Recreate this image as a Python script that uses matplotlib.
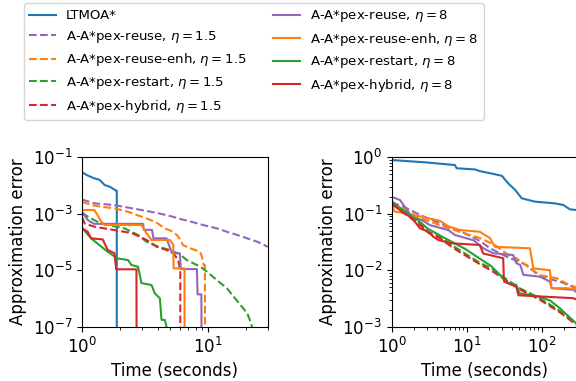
import numpy as np
import matplotlib
matplotlib.use('Agg')
import matplotlib.pyplot as plt

# left panel (small instance), times in seconds, approximation errors
lt_t_l = [1.0, 1.08, 1.25, 1.38, 1.51, 1.66, 1.87, 1.89, 1.89]
lt_e_l = [0.03, 0.024, 0.018, 0.016, 0.0105, 0.0091, 0.0066, 0.0066, 1e-9]

reuse15_t_l = [1.0, 1.25, 1.8, 2.97, 4.04, 5.2, 6.0, 7.2, 9.2, 11.8, 14.2, 17.2, 20.6, 24.8, 30]
reuse15_e_l = [3.2e-3, 2.35e-3, 2.04e-3, 1.36e-3, 1.05e-3, 8.0e-4, 6.6e-4, 5.4e-4, 4.0e-4, 3.05e-4,
               2.3e-4, 1.77e-4, 1.35e-4, 1.02e-4, 6.8e-5]

enh15_t_l = [1.0, 1.18, 1.42, 1.81, 2.32, 2.97, 3.8, 4.56, 5.32, 5.8, 6.35, 7.24, 8.7, 9.0, 9.3, 9.5, 9.5]
enh15_e_l = [2.67e-3, 2.04e-3, 1.78e-3, 1.56e-3, 1.18e-3, 7.9e-4, 5.25e-4, 3.05e-4, 2.3e-4, 1.6e-4,
             7.8e-5, 6.0e-5, 4.5e-5, 3.0e-5, 1.5e-5, 1.5e-5, 1e-9]

restart15_t_l = [1.0, 1.11, 1.33, 1.6, 2.18, 2.79, 3.26, 4.04, 5.0, 6.0, 6.8, 8.7, 9.85, 11.8, 14.2,
                 16.1, 18.2, 20.6, 21.9, 22.5, 23]
restart15_e_l = [1.1e-3, 7.9e-4, 5.2e-4, 4.0e-4, 3.05e-4, 1.77e-4, 1.02e-4, 6.8e-5, 5.2e-5, 3.7e-5,
                 2.3e-5, 1.35e-5, 8.9e-6, 4.5e-6, 2.3e-6, 1.15e-6, 5.9e-7, 3.0e-7, 1.5e-7, 1e-7, 5e-8]

hybrid15_t_l = [1.0, 1.05, 1.25, 1.6, 2.18, 2.54, 3.26, 3.92, 4.71, 5.32, 5.84, 6.02, 6.05, 6.05]
hybrid15_e_l = [7.5e-4, 4.5e-4, 3.5e-4, 2.9e-4, 2.3e-4, 2.0e-4, 1.18e-4, 6.8e-5, 5.2e-5, 4.0e-5,
                2.3e-5, 1.0e-5, 1.0e-5, 1e-9]

reuse8_t_l = [1.0, 1.11, 1.25, 3.06, 3.1, 3.6, 3.7, 4.7, 5.2, 6.0, 6.1, 8.2, 8.3, 8.9, 8.95]
reuse8_e_l = [1.15e-3, 6.0e-4, 4.4e-4, 4.4e-4, 2.7e-4, 2.7e-4, 1.35e-4, 1.35e-4, 4.0e-5, 4.0e-5,
              1.1e-5, 1.1e-5, 1.4e-6, 1.4e-6, 1e-9]

enh8_t_l = [1.0, 1.25, 1.33, 1.42, 1.51, 2.97, 3.26, 3.57, 5.0, 5.32, 5.35, 6.53, 6.55]
enh8_e_l = [1.36e-3, 1.36e-3, 9.0e-4, 5.25e-4, 4.0e-4, 4.0e-4, 2.04e-4, 1.18e-4, 1.18e-4, 7.9e-5,
            1.17e-5, 1.17e-5, 1e-9]

restart8_t_l = [1.0, 1.18, 1.6, 1.93, 2.32, 2.47, 2.79, 2.97, 3.57, 3.8, 4.16, 4.29, 4.56, 4.7, 4.7]
restart8_e_l = [3.2e-4, 1.35e-4, 4.5e-5, 2.6e-5, 2.3e-5, 1.53e-5, 1.33e-5, 3.5e-6, 3.0e-6, 1.5e-6,
                1.02e-6, 1.74e-7, 1.74e-7, 1.0e-7, 1e-9]

hybrid8_t_l = [1.0, 1.11, 1.18, 1.46, 1.6, 1.81, 1.87, 2.71, 2.72]
hybrid8_e_l = [3.05e-4, 2.3e-4, 1.35e-4, 1.24e-4, 5.2e-5, 4.0e-5, 1.08e-5, 1.08e-5, 1e-9]

# right panel (large instance)
lt_t_r = [1.0, 2.78, 6.97, 7.36, 12.9, 15.0, 24, 29.5, 35.9, 44.3, 54.3, 81.5, 150, 195, 238, 300]
lt_e_r = [0.895, 0.815, 0.73, 0.64, 0.61, 0.57, 0.5, 0.47, 0.345, 0.265, 0.188, 0.164, 0.153,
          0.143, 0.12, 0.116]

reuse15_t_r = [1.0, 1.5, 2.4, 4.4, 8.1, 15, 20.5, 34, 63, 95, 175, 300]
reuse15_e_r = [0.16, 0.13, 0.095, 0.068, 0.05, 0.033, 0.0245, 0.0174, 0.0124, 0.0077, 0.0063, 0.0047]

enh15_t_r = [1.0, 1.29, 2.38, 4.4, 8.14, 15, 23.8, 35.9, 46, 95, 160, 215, 300]
enh15_e_r = [0.137, 0.132, 0.084, 0.063, 0.0478, 0.0372, 0.028, 0.0186, 0.0163, 0.0082, 0.0072,
             0.0058, 0.0049]

restart15_t_r = [1.0, 1.5, 2.26, 3.08, 4.4, 6.3, 8.1, 15, 21.5, 27.8, 51, 95, 175, 278, 300]
restart15_e_r = [0.164, 0.109, 0.0724, 0.048, 0.04, 0.028, 0.0227, 0.0135, 0.0108, 0.0083, 0.0048,
                 0.0032, 0.0019, 0.0012, 0.0011]

hybrid15_t_r = [1.0, 1.5, 2.26, 3.08, 4.4, 6.3, 8.1, 15, 21.5, 27.8, 51, 95, 175, 300]
hybrid15_e_r = [0.15, 0.1, 0.068, 0.046, 0.037, 0.026, 0.021, 0.0128, 0.0098, 0.0078, 0.0046, 0.003,
                0.0018, 0.00105]

reuse8_t_r = [1.0, 1.29, 1.5, 1.85, 2.51, 3.24, 4.18, 5.68, 7.0, 12.3, 16.7, 22.6, 41.8, 46, 52, 57,
              95, 129, 136, 264, 300]
reuse8_e_r = [0.2, 0.175, 0.133, 0.089, 0.0776, 0.063, 0.0575, 0.0516, 0.042, 0.034, 0.0245, 0.02,
              0.0186, 0.0133, 0.0124, 0.0083, 0.0077, 0.0063, 0.0048, 0.0045, 0.0040]

enh8_t_r = [1.0, 1.1, 1.5, 2.51, 4.4, 5.7, 8.1, 15.0, 20.5, 23.8, 69.8, 77.5, 129, 136, 226, 300]
enh8_e_r = [0.143, 0.109, 0.102, 0.0887, 0.075, 0.06, 0.0516, 0.048, 0.037, 0.026, 0.0245, 0.0108,
            0.01, 0.0048, 0.0048, 0.0045]

restart8_t_r = [1.0, 1.5, 2.3, 3.0, 4.6, 6.3, 9.5, 15, 21, 30, 34, 46, 51, 95, 130, 170, 300]
restart8_e_r = [0.165, 0.11, 0.075, 0.055, 0.04, 0.032, 0.024, 0.016, 0.012, 0.0075, 0.0061, 0.0055,
                0.0039, 0.0034, 0.0029, 0.0022, 0.0011]

hybrid8_t_r = [1.0, 1.36, 1.75, 2.04, 2.38, 3.08, 3.59, 4.18, 6.31, 15, 16.6, 30.7, 31.5, 46, 49, 264, 300]
hybrid8_e_r = [0.153, 0.109, 0.0887, 0.0724, 0.0553, 0.048, 0.0393, 0.0343, 0.03, 0.028, 0.0198,
               0.0163, 0.0063, 0.0051, 0.0036, 0.0032, 0.003]

labels = ['LTMOA*',
          r'A-A*pex-reuse, $\eta = 1.5$', r'A-A*pex-reuse-enh, $\eta = 1.5$',
          r'A-A*pex-restart, $\eta = 1.5$', r'A-A*pex-hybrid, $\eta = 1.5$',
          r'A-A*pex-reuse, $\eta = 8$', r'A-A*pex-reuse-enh, $\eta = 8$',
          r'A-A*pex-restart, $\eta = 8$', r'A-A*pex-hybrid, $\eta = 8$']
colors = ['C0', 'C4', 'C1', 'C2', 'C3', 'C4', 'C1', 'C2', 'C3']
styles = ['-', '--', '--', '--', '--', '-', '-', '-', '-']

series_l = [(lt_t_l, lt_e_l), (reuse15_t_l, reuse15_e_l), (enh15_t_l, enh15_e_l),
            (restart15_t_l, restart15_e_l), (hybrid15_t_l, hybrid15_e_l),
            (reuse8_t_l, reuse8_e_l), (enh8_t_l, enh8_e_l),
            (restart8_t_l, restart8_e_l), (hybrid8_t_l, hybrid8_e_l)]
series_r = [(lt_t_r, lt_e_r), (reuse15_t_r, reuse15_e_r), (enh15_t_r, enh15_e_r),
            (restart15_t_r, restart15_e_r), (hybrid15_t_r, hybrid15_e_r),
            (reuse8_t_r, reuse8_e_r), (enh8_t_r, enh8_e_r),
            (restart8_t_r, restart8_e_r), (hybrid8_t_r, hybrid8_e_r)]

fig = plt.figure(figsize=(5.76, 3.81), dpi=100)
ax1 = fig.add_axes([0.1424, 0.1425, 0.3224, 0.4446])
ax2 = fig.add_axes([0.680, 0.1425, 0.3224, 0.4446])

handles = []
for (t, e), c, ls, lab in zip(series_l, colors, styles, labels):
    h, = ax1.plot(t, e, color=c, linestyle=ls, label=lab)
    handles.append(h)
for (t, e), c, ls in zip(series_r, colors, styles):
    ax2.plot(t, e, color=c, linestyle=ls)

ax1.set_xscale('log')
ax1.set_yscale('log')
ax1.set_xlim(1, 30)
ax1.set_ylim(1e-7, 1e-1)
ax1.set_yticks([1e-7, 1e-5, 1e-3, 1e-1])
ax1.yaxis.set_minor_locator(matplotlib.ticker.NullLocator())

ax2.set_xscale('log')
ax2.set_yscale('log')
ax2.set_xlim(1, 300)
ax2.set_ylim(1e-3, 1)

for ax in (ax1, ax2):
    ax.set_xlabel('Time (seconds)', fontsize=12)
    ax.set_ylabel('Approximation error', fontsize=12)
    ax.tick_params(labelsize=12)

fig.legend(handles=handles, ncol=2, fontsize=9.5, loc='upper left', borderaxespad=0,
           bbox_to_anchor=(24 / 576, 1 - 3 / 381))

fig.savefig('out.png', dpi=100)
